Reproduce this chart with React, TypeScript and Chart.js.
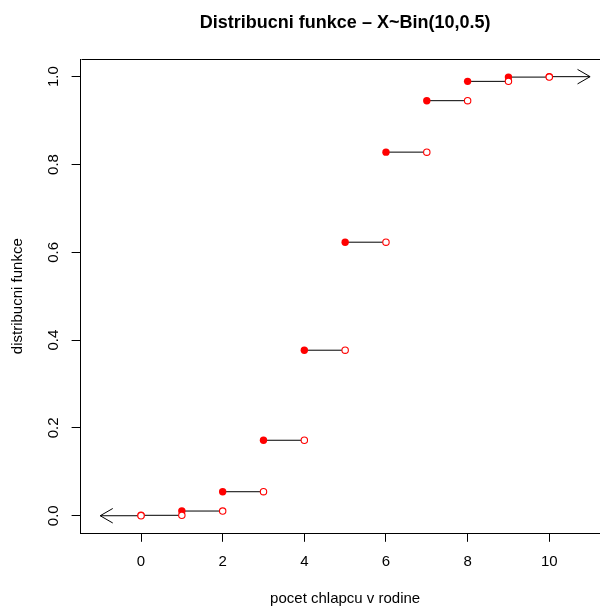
import React, { useEffect, useRef } from "react";
import { Chart, registerables } from "chart.js";

Chart.register(...registerables);

// ---- data ----
const titleText = "Distribucni funkce – X~Bin(10,0.5)";
const xTitle = "pocet chlapcu v rodine";
const yTitle = "distribucni funkce";
const xValues = [0, 1, 2, 3, 4, 5, 6, 7, 8, 9, 10];
const cdfValues = [0.001, 0.0107, 0.0547, 0.1719, 0.377, 0.623, 0.8281, 0.9453, 0.9893, 0.999, 1.0];
const xTicks = [0, 2, 4, 6, 8, 10];
const xTickLabels = ["0", "2", "4", "6", "8", "10"];
const yTicks = [0, 0.2, 0.4, 0.6, 0.8, 1.0];
const yTickLabels = ["0.0", "0.2", "0.4", "0.6", "0.8", "1.0"];
const xLimits = [-1.48, 11.48];
const yLimits = [-0.04, 1.04];
const leftTail = [
  { x: 0, y: 0 },
  { x: -1, y: 0 },
];
const rightTail = [
  { x: 10, y: 1 },
  { x: 11, y: 1 },
];

const FONT = "'Liberation Sans', Arial, Helvetica, sans-serif";
const BASE = 15;

export default function App() {
  const ref = useRef<HTMLCanvasElement | null>(null);

  useEffect(() => {
    const canvas = ref.current;
    if (!canvas) return;

    const segments: any[] = [];
    for (let i = 0; i < xValues.length - 1; i++) {
      segments.push({ x: xValues[i], y: cdfValues[i] });
      segments.push({ x: xValues[i + 1], y: cdfValues[i] });
      segments.push({ x: xValues[i] + 0.5, y: null });
    }
    const filled = xValues.map((x, i) => ({ x, y: cdfValues[i] }));
    const open = [{ x: leftTail[0].x, y: leftTail[0].y }].concat(
      xValues.slice(0, xValues.length - 1).map((x, i) => ({ x: xValues[i + 1], y: cdfValues[i] }))
    );

    const decor = {
      id: "decor",
      afterDatasetsDraw(chart: any) {
        const ctx = chart.ctx;
        [3, 4].forEach((di) => {
          const meta = chart.getDatasetMeta(di);
          const pts = meta.data;
          if (!pts || pts.length < 2) return;
          const a = pts[pts.length - 2];
          const b = pts[pts.length - 1];
          const ang = Math.atan2(b.y - a.y, b.x - a.x);
          const len = 14.5;
          const spread = Math.PI / 6;
          ctx.save();
          ctx.strokeStyle = "#000";
          ctx.lineWidth = 1;
          ctx.beginPath();
          ctx.moveTo(b.x - len * Math.cos(ang - spread), b.y - len * Math.sin(ang - spread));
          ctx.lineTo(b.x, b.y);
          ctx.lineTo(b.x - len * Math.cos(ang + spread), b.y - len * Math.sin(ang + spread));
          ctx.stroke();
          ctx.restore();
        });
      },
      afterDraw(chart: any) {
        const ctx = chart.ctx;
        const area = chart.chartArea;
        const ys = chart.scales.y;
        const xs = chart.scales.x;
        ctx.save();
        ctx.strokeStyle = "#000";
        ctx.lineWidth = 1;
        ctx.beginPath();
        const top = Math.round(area.top) + 0.5;
        const left = Math.round(area.left) + 0.5;
        const right = Math.round(area.right) + 0.5;
        ctx.moveTo(left, top);
        ctx.lineTo(right, top);
        ctx.lineTo(right, Math.round(area.bottom) + 0.5);
        ctx.stroke();

        ctx.fillStyle = "#000";
        ctx.font = `${BASE}px ${FONT}`;
        ctx.textAlign = "center";
        ctx.textBaseline = "alphabetic";
        // x tick labels
        xs.ticks.forEach((t: any) => {
          const i = xTicks.indexOf(t.value);
          if (i < 0) return;
          ctx.fillText(xTickLabels[i], xs.getPixelForValue(t.value), area.bottom + 33);
        });
        // y tick labels (rotated)
        ys.ticks.forEach((t: any) => {
          const i = yTicks.indexOf(t.value);
          if (i < 0) return;
          const py = ys.getPixelForValue(t.value);
          ctx.save();
          ctx.translate(area.left - 22.5, py);
          ctx.rotate(-Math.PI / 2);
          ctx.fillText(yTickLabels[i], 0, 0);
          ctx.restore();
        });
        // y title
        const cy = (area.top + area.bottom) / 2;
        ctx.save();
        ctx.translate(21.5, cy);
        ctx.rotate(-Math.PI / 2);
        ctx.fillText(yTitle, 0, 0);
        ctx.restore();
        // x title
        const cx = (area.left + area.right) / 2;
        ctx.fillText(xTitle, cx, 603);
        // main title
        ctx.font = `bold 18px ${FONT}`;
        ctx.fillText(titleText, cx, 27.5);
        ctx.restore();
      },
    };

    const chart = new Chart(canvas, {
      type: "line",
      data: {
        datasets: [
          {
            data: open,
            showLine: false,
            pointRadius: 3.2,
            pointBorderWidth: 1.1,
            pointBorderColor: "#ff0000",
            pointBackgroundColor: "#ffffff",
            pointHoverRadius: 3.2,
          },
          {
            data: filled,
            showLine: false,
            pointRadius: 3.7,
            pointBorderWidth: 0,
            pointBorderColor: "#ff0000",
            pointBackgroundColor: "#ff0000",
            pointHoverRadius: 3.7,
          },
          {
            data: segments,
            borderColor: "#000",
            borderWidth: 1,
            pointRadius: 0,
            spanGaps: false,
            tension: 0,
          },
          {
            data: leftTail,
            borderColor: "#000",
            borderWidth: 1,
            pointRadius: 0,
            tension: 0,
          },
          {
            data: rightTail,
            borderColor: "#000",
            borderWidth: 1,
            pointRadius: 0,
            tension: 0,
          },
        ],
      },
      options: {
        responsive: false,
        animation: false,
        events: [],
        layout: { padding: { left: 80.6, top: 59.1, right: 10.3, bottom: 72.7 } },
        plugins: {
          legend: { display: false },
          tooltip: { enabled: false },
          title: { display: false },
        },
        scales: {
          x: {
            type: "linear",
            position: "bottom",
            min: xLimits[0],
            max: xLimits[1],
            afterBuildTicks: (axis: any) => {
              axis.ticks = xTicks.map((v) => ({ value: v }));
            },
            afterFit: (axis: any) => {
              axis.height = 0;
            },
            ticks: { display: false },
            grid: {
              drawOnChartArea: false,
              drawTicks: true,
              tickLength: 8.5,
              color: "#000",
              lineWidth: 1,
            },
            border: { display: true, color: "#000", width: 1 },
          },
          y: {
            type: "linear",
            position: "left",
            min: yLimits[0],
            max: yLimits[1],
            afterBuildTicks: (axis: any) => {
              axis.ticks = yTicks.map((v) => ({ value: v }));
            },
            afterFit: (axis: any) => {
              axis.width = 0;
            },
            ticks: { display: false },
            grid: {
              drawOnChartArea: false,
              drawTicks: true,
              tickLength: 9,
              color: "#000",
              lineWidth: 1,
            },
            border: { display: true, color: "#000", width: 1 },
          },
        },
      },
      plugins: [decor],
    } as any);

    return () => chart.destroy();
  }, []);

  return (
    <div
      style={{
        position: "absolute",
        left: 0,
        top: 0,
        width: 600,
        height: 606,
        overflow: "hidden",
        background: "#fff",
      }}
    >
      <canvas ref={ref} width={620} height={606} style={{ width: 620, height: 606, display: "block" }} />
    </div>
  );
}
